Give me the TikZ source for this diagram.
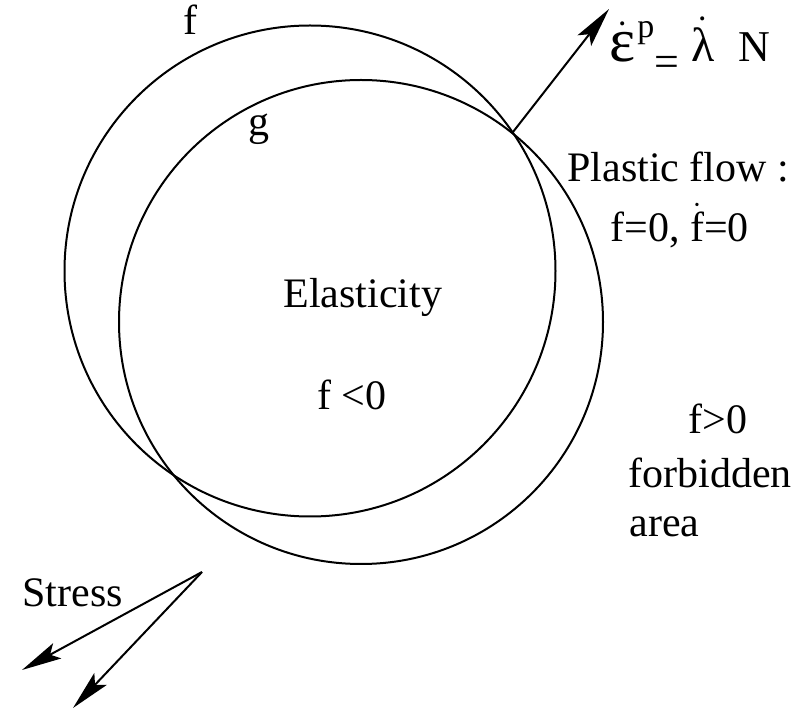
\documentclass[tikz,border=0pt]{standalone}
\usepackage{fontspec}
\setmainfont{Liberation Serif}
\usetikzlibrary{arrows.meta}
\newcommand{\dt}[1]{$\dot{\hbox{#1}}$}
\newcommand{\fsz}[1]{\fontsize{#1}{#1}\selectfont}

\begin{document}
\begin{tikzpicture}[x=0.5pt,y=-0.5pt,
surf/.style={circle,draw,line width=1pt,inner sep=0pt,outer sep=0pt},
lbl/.style={anchor=base west,inner sep=0pt,font=\fsz{21}},
vec/.style={-{Stealth[length=20pt,width=8.6pt,inset=4pt]},line width=1pt}]
\useasboundingbox (0,0) rectangle (810,711);
% yield surface f and plastic potential g
\node[surf,minimum size=245.5pt] (f) at (310,271) {};
\node[surf,minimum size=242pt] (g) at (361,322) {};
\node[lbl] (flbl) at (183,35) {f};
\node[lbl] (glbl) at (248,136) {g};
% regions
\node[lbl] (elast) at (283,308) {Elasticity};
\node[lbl] (fneg) at (317,410) {f <0};
\node[lbl] (plast) at (567,182) {Plastic flow :};
\node[lbl] (cond) at (610,242) {f=0, \dt{f}=0};
\node[lbl] (fpos) at (688,434) {f>0};
\node[lbl] (forb) at (628,488) {forbidden};
\node[lbl] (area) at (629,537) {area};
% flow direction
\coordinate (ip) at (513,132);
\coordinate (ntip) at (609,9);
\draw[vec] (ip) -- (ntip);
\node[lbl] (flow) at (609,62) {{\fsz{31}\dt{ε}}\hspace{1pt}\raisebox{12pt}{\fsz{17}p}\raisebox{-7.5pt}{\fsz{22}=}\hspace{6pt}{\fsz{24}\dt{λ}}\hspace{12pt}{\fsz{22}N}};
% stress
\coordinate (sroot) at (202,572);
\coordinate (sa) at (22,670);
\coordinate (sb) at (73,708);
\draw[vec] (sroot) -- (sa);
\draw[vec] (sroot) -- (sb);
\node[lbl] (stress) at (22,607) {Stress};
\end{tikzpicture}
\end{document}
